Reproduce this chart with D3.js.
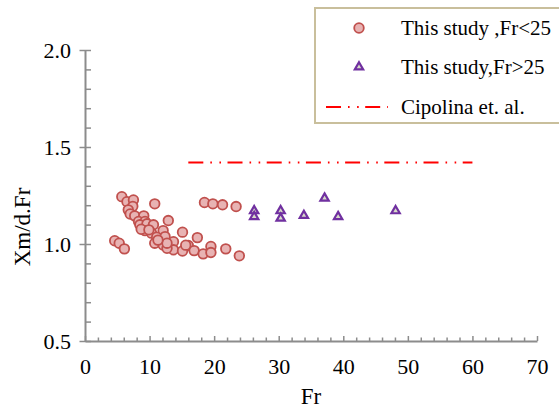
<!DOCTYPE html>
<html>
<head>
<meta charset="utf-8">
<script src="https://cdn.jsdelivr.net/npm/d3@7/dist/d3.min.js"></script>
<style>
  html, body { margin: 0; padding: 0; background: #fff; }
  svg { display: block; }
  text { font-family: "Liberation Serif", "Times New Roman", serif; fill: #000; }
</style>
</head>
<body>
<svg id="chart" width="559" height="408"></svg>
<script>
// Fr < 25 measurements: Froude number and Xm/d.Fr
const lowFr = [4.6, 5.3, 6.1, 5.7, 6.5, 7.5, 7.4, 6.7, 7.0, 10.8, 7.7, 9.1, 8.3, 9.3, 8.5, 9.6, 10.6, 12.9,
  9.3, 10.3, 12.1, 11.1, 12.4, 15.1, 10.8, 12.1, 13.7, 13.7, 12.7, 17.4, 16.0, 15.1, 16.9, 18.3, 19.5, 19.5,
  21.8, 23.9, 18.5, 19.8, 21.3, 23.4, 8.7, 9.9, 12.7, 11.3, 15.6];
const lowRatio = [1.017, 1.004, 0.975, 1.244, 1.218, 1.227, 1.194, 1.176, 1.155, 1.207, 1.145, 1.145, 1.116, 1.116, 1.099, 1.104, 1.099, 1.121,
  1.069, 1.056, 1.069, 1.035, 1.038, 1.061, 1.004, 0.995, 1.012, 0.970, 0.978, 1.033, 0.992, 0.964, 0.966, 0.949, 0.987, 0.956,
  0.975, 0.939, 1.214, 1.207, 1.202, 1.193, 1.076, 1.073, 1.004, 1.020, 0.994];

// Fr > 25 measurements
const highFr = [26.2, 26.2, 30.3, 30.3, 33.9, 37.1, 39.2, 48.1];
const highRatio = [1.171, 1.141, 1.171, 1.133, 1.147, 1.236, 1.141, 1.171];

// Cipolina et al. reference level
const cipolinaFr = [16, 60];
const cipolinaRatio = [1.42, 1.42];

const xTicks = [0, 10, 20, 30, 40, 50, 60, 70];
const yTicks = [0.5, 1.0, 1.5, 2.0];
const legendLabels = ["This study ,Fr<25", "This study,Fr>25", "Cipolina et. al."];

const svg = d3.select("#chart");
const x = d3.scaleLinear().domain([0, 70]).range([85, 537]);
const y = d3.scaleLinear().domain([0.5, 2.0]).range([341, 50]);

const axisColor = "#8c8c8c";

// y axis: major ticks cross the line, minor ticks point inward
const yAxisG = svg.append("g").attr("transform", `translate(${x(0)},0)`);
yAxisG.call(d3.axisLeft(y).tickValues(d3.range(0.5, 2.001, 0.1)).tickSize(0).tickFormat(""));
yAxisG.select(".domain").attr("stroke", axisColor).attr("stroke-width", 2);
yAxisG.selectAll(".tick").each(function(d) {
  const major = Math.abs(d * 2 - Math.round(d * 2)) < 1e-6;
  d3.select(this).select("line")
    .attr("x1", major ? -5.5 : 0).attr("x2", 6)
    .attr("stroke", axisColor).attr("stroke-width", 1.5);
});
yAxisG.selectAll(".tick").filter(d => yTicks.some(t => Math.abs(t - d) < 1e-6))
  .append("text")
  .attr("x", -14).attr("dy", "0.35em")
  .attr("text-anchor", "end")
  .style("font-size", "22px")
  .text(d => d3.format(".1f")(d));

// x axis
const xAxisG = svg.append("g").attr("transform", `translate(0,${y(0.5)})`);
xAxisG.call(d3.axisBottom(x).tickValues(d3.range(0, 70.001, 2)).tickSize(0).tickFormat(""));
xAxisG.select(".domain").attr("stroke", axisColor).attr("stroke-width", 2);
xAxisG.selectAll(".tick").each(function(d) {
  const major = Math.round(d) % 10 === 0;
  d3.select(this).select("line")
    .attr("y1", 0).attr("y2", major ? -5 : -3.5)
    .attr("stroke", axisColor).attr("stroke-width", 1.5);
});
xAxisG.selectAll(".tick").filter(d => xTicks.includes(Math.round(d)) && Math.abs(d - Math.round(d)) < 1e-6 && Math.round(d) % 10 === 0)
  .append("text")
  .attr("y", 25).attr("dy", "0.35em")
  .attr("text-anchor", "middle")
  .style("font-size", "22px")
  .text(d => d3.format("d")(d));

// axis titles
svg.append("text")
  .attr("x", x(35)).attr("y", 396)
  .attr("text-anchor", "middle").attr("dy", "0.35em")
  .style("font-size", "23px")
  .text("Fr");
svg.append("text")
  .attr("transform", `translate(22,227) rotate(-90)`)
  .attr("text-anchor", "middle").attr("dy", "0.35em")
  .style("font-size", "23px")
  .text("Xm/d.Fr");

// reference line
const dashPattern = "15,7,1.6,7.5,1.6,6.5";
svg.append("path")
  .datum(cipolinaFr.map((f, i) => [f, cipolinaRatio[i]]))
  .attr("d", d3.line().x(d => x(d[0])).y(d => y(d[1])))
  .attr("fill", "none").attr("stroke", "#ff0000").attr("stroke-width", 2)
  .attr("stroke-dasharray", dashPattern);

// Fr < 25 circles
const circleStyle = sel => sel
  .attr("r", 4.8)
  .attr("fill", "#e8b3b3")
  .attr("stroke", "#c0504d")
  .attr("stroke-width", 1.8);

svg.append("g").selectAll("circle")
  .data(lowFr.map((f, i) => [f, lowRatio[i]]))
  .join("circle")
  .attr("cx", d => x(d[0])).attr("cy", d => y(d[1]))
  .call(circleStyle);

// Fr > 25 triangles
const tri = d3.symbol().type(d3.symbolTriangle).size(30);
const triStyle = sel => sel
  .attr("d", tri)
  .attr("fill", "#d7dac8")
  .attr("stroke", "#7030a0")
  .attr("stroke-width", 2.2);

svg.append("g").selectAll("path")
  .data(highFr.map((f, i) => [f, highRatio[i]]))
  .join("path")
  .attr("transform", d => `translate(${x(d[0])},${y(d[1])})`)
  .call(triStyle);

// legend
const lg = svg.append("g");
lg.append("rect")
  .attr("x", 315).attr("y", 8).attr("width", 260).attr("height", 115)
  .attr("fill", "#fff").attr("stroke", "#c9bf9c").attr("stroke-width", 2);
const rowY = [28, 67, 107];
lg.append("circle").attr("cx", 359).attr("cy", rowY[0]).call(circleStyle);
lg.append("path").attr("transform", `translate(359,${rowY[1]})`).call(triStyle);
lg.append("line")
  .attr("x1", 326).attr("x2", 388).attr("y1", rowY[2]).attr("y2", rowY[2])
  .attr("stroke", "#ff0000").attr("stroke-width", 2)
  .attr("stroke-dasharray", dashPattern);
lg.selectAll("text.lbl")
  .data(legendLabels)
  .join("text")
  .attr("class", "lbl")
  .attr("x", 401).attr("y", (d, i) => rowY[i]).attr("dy", "0.35em")
  .style("font-size", "21px")
  .text(d => d);
</script>
</body>
</html>
